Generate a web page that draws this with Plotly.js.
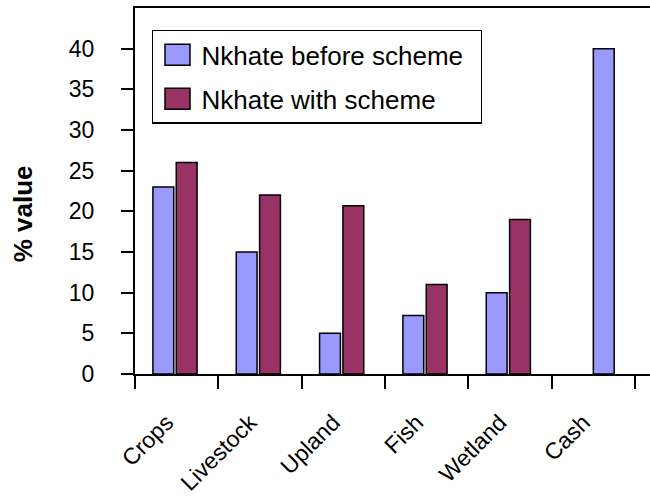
<!DOCTYPE html>
<html>
<head>
<meta charset="utf-8">
<script src="https://cdn.plot.ly/plotly-3.0.1.min.js"></script>
<style>html,body{margin:0;padding:0;background:#fff;}#chart{width:650px;height:504px;}</style>
</head>
<body>
<div id="chart"></div>
<script>
// ---- data ----
const categories = ["Crops", "Livestock", "Upland", "Fish", "Wetland", "Cash"];
const beforeScheme = [23, 15, 5, 7.2, 10, 40];
const withScheme = [26, 22, 20.7, 11, 19, null];
const seriesNames = ["Nkhate before scheme", "Nkhate with scheme"];
const yTickValues = [0, 5, 10, 15, 20, 25, 30, 35, 40];
const yAxisLabel = "% value";

const FONT = "Liberation Sans, Arial, sans-serif";
const BAR_W = 0.25;

const traces = [
  {
    type: "bar",
    name: seriesNames[0],
    x: categories,
    y: beforeScheme,
    width: BAR_W,
    // bar sits in the left slot, or in the right slot when the partner value is missing
    offset: withScheme.map(v => (v == null ? 0 : -0.285)),
    marker: { color: "#9999FF", line: { color: "#000", width: 1.5 } },
    legendgroup: "a",
    hoverinfo: "x+y"
  },
  {
    type: "bar",
    name: seriesNames[1],
    x: categories,
    y: withScheme,
    width: BAR_W,
    offset: -0.005,
    marker: { color: "#993366", line: { color: "#000", width: 1.5 } },
    legendgroup: "b",
    hoverinfo: "x+y"
  }
];

const layout = {
  width: 650,
  height: 504,
  margin: { l: 135, r: 0, t: 8, b: 130 },
  paper_bgcolor: "#fff",
  plot_bgcolor: "#fff",
  font: { family: FONT, size: 23, color: "#000" },
  barmode: "overlay",
  showlegend: true,
  legend: {
    x: 0.033, y: 0.94, xanchor: "left", yanchor: "top",
    bgcolor: "#fff", bordercolor: "#000", borderwidth: 1.5,
    font: { family: FONT, size: 26, color: "#000" },
    traceorder: "grouped", tracegroupgap: 7,
    itemwidth: 38
  },
  xaxis: {
    type: "category",
    range: [-0.5, 5.68],
    showline: true, linecolor: "#000", linewidth: 2,
    mirror: true,
    ticks: "outside", ticklen: 13, tickwidth: 2, tickcolor: "#000",
    tickson: "boundaries",
    tickangle: -45,
    ticklabelstandoff: 24,
    ticklabelshift: -10,
    tickfont: { family: FONT, size: 23, color: "#000" },
    showgrid: false, zeroline: false, fixedrange: true
  },
  yaxis: {
    range: [0, 45],
    tickvals: yTickValues,
    ticktext: yTickValues.map(String),
    showline: true, linecolor: "#000", linewidth: 2,
    ticks: "outside", ticklen: 12, tickwidth: 2, tickcolor: "#000",
    ticklabelstandoff: 22,
    tickfont: { family: FONT, size: 23, color: "#000" },
    showgrid: false, zeroline: false, fixedrange: true
  },
  annotations: [
    {
      text: "<b>" + yAxisLabel + "</b>",
      xref: "paper", yref: "paper",
      x: -0.217, y: 0.437,
      xanchor: "center", yanchor: "middle",
      textangle: -90, showarrow: false,
      font: { family: FONT, size: 26, color: "#000" }
    }
  ]
};

Plotly.newPlot("chart", traces, layout, { displayModeBar: false, staticPlot: true }).then(gd => {
  // enlarge legend swatches to match the reference
  gd.querySelectorAll(".legend .legendpoints path").forEach(p => {
    p.setAttribute("d", "M12.5,10.5H-12.5V-10.5H12.5Z");
  });
  // widen the legend frame to match the reference
  gd.querySelectorAll(".legend rect.bg").forEach(r => {
    r.setAttribute("width", "329");
  });
});
</script>
</body>
</html>
